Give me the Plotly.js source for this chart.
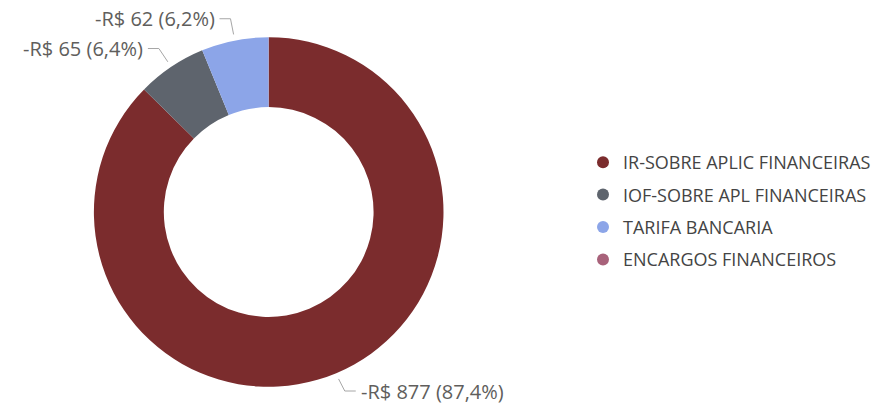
<!DOCTYPE html>
<html>
<head>
<meta charset="utf-8">
<script src="https://cdn.plot.ly/plotly-3.0.1.min.js"></script>
<style>html,body{margin:0;padding:0;background:#fff;}#chart{width:876px;height:405px;}</style>
</head>
<body>
<div id="chart"></div>
<script>
// ---- data ----
const categories = ["IR-SOBRE APLIC FINANCEIRAS", "IOF-SOBRE APL FINANCEIRAS", "TARIFA BANCARIA", "ENCARGOS FINANCEIROS"];
const values = [-876.7, -64.5, -62.2, -0.1];
const colors = ["#7B2C2D", "#5E646D", "#8CA5E8", "#A8627A"];

// ---- layout constants ----
const W = 876, H = 405;
const cx = 269, cy = 212, R = 175;
const FONT = "Open Sans, Noto Sans, sans-serif";
const LABEL_SIZE = 20;

const mags = values.map(v => Math.abs(v));
const total = mags.reduce((a, b) => a + b, 0);

function fmtLabel(v) {
  const pct = (Math.abs(v) / total * 100).toFixed(1).replace(".", ",");
  return "-R$ " + Math.round(Math.abs(v)) + " (" + pct + "%)";
}
const px = x => x / W;
const py = y => 1 - y / H;

const traces = [{
  type: "pie",
  labels: categories,
  values: mags,
  marker: {colors: colors, line: {width: 0}},
  hole: 0.6,
  sort: false,
  direction: "clockwise",
  rotation: 0,
  textinfo: "none",
  showlegend: false,
  domain: {x: [px(cx - R), px(cx + R)], y: [py(cy + R), py(cy - R)]},
  hoverinfo: "label+value+percent"
}];

categories.forEach((c, i) => {
  traces.push({
    type: "scatter", x: [null], y: [null], mode: "markers",
    name: c, legendgroup: "g" + i,
    marker: {size: 12, color: colors[i], symbol: "circle"},
    hoverinfo: "skip"
  });
});

const shapes = [], annotations = [];
let cum = 0;
mags.forEach((m, i) => {
  const th = 2 * Math.PI * (cum + m / 2) / total;
  cum += m;
  if (m / total < 0.01) return;
  const s = Math.sin(th), co = Math.cos(th);
  const x1 = cx + (R + 6) * s, y1 = cy - (R + 6) * co;
  const x2 = cx + (R + 22) * s;
  const y2 = Math.min(cy - (R + 22) * co, H - 14);
  const dir = s >= 0 ? 1 : -1;
  const x3 = x2 + dir * 11;
  shapes.push({
    type: "path", xref: "paper", yref: "paper",
    path: `M ${px(x1)} ${py(y1)} L ${px(x2)} ${py(y2)} L ${px(x3)} ${py(y2)}`,
    line: {color: "#a6a6a6", width: 1}
  });
  annotations.push({
    xref: "paper", yref: "paper", x: px(x3 + dir * 4), y: py(y2),
    xanchor: dir > 0 ? "left" : "right", yanchor: "middle",
    text: fmtLabel(values[i]), showarrow: false, borderpad: 0,
    font: {family: FONT, size: LABEL_SIZE, color: "#605E5C"}
  });
});

const layout = {
  width: W, height: H,
  margin: {l: 0, r: 0, t: 0, b: 0},
  paper_bgcolor: "#ffffff", plot_bgcolor: "#ffffff",
  xaxis: {visible: false}, yaxis: {visible: false},
  showlegend: true,
  legend: {
    x: px(584), y: py(211), xanchor: "left", yanchor: "middle",
    font: {family: FONT, size: 18, color: "#444444"},
    traceorder: "grouped", tracegroupgap: 6,
    bgcolor: "rgba(0,0,0,0)"
  },
  shapes: shapes,
  annotations: annotations,
  font: {family: FONT}
};

Plotly.newPlot("chart", traces, layout, {displayModeBar: false, staticPlot: true});
</script>
</body>
</html>
